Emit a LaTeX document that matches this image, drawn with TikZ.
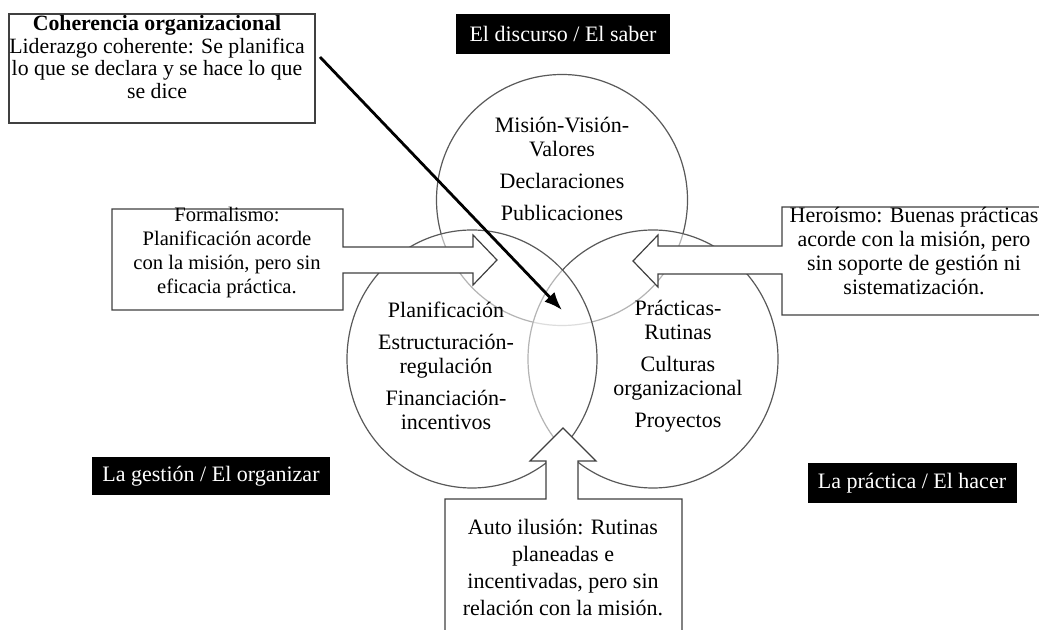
\documentclass[tikz,border=0pt]{standalone}
\usepackage{fontspec}
\setmainfont{Liberation Serif}
\usetikzlibrary{arrows.meta}
\begin{document}
\begin{tikzpicture}[x=0.5pt, y=-0.5pt, line join=miter,
    circulo/.style={draw=black!65, line width=0.6pt, fill=white, fill opacity=0.55},
    llamada/.style={draw=black!75, line width=0.6pt, fill=white},
    etiqueta/.style={fill=black, text=white, font=\fontsize{11}{13}\selectfont, inner sep=0pt},
    texto/.style={align=center, inner sep=0pt, font=\fontsize{11}{12}\selectfont}]
  \useasboundingbox (0,0) rectangle (1039,630);

  % 1. Círculos (arriba, derecha, izquierda)
  \draw[circulo] (562,200) circle [radius=62.75pt];
  \draw[circulo] (653,359) ellipse [x radius=62.5pt, y radius=64.5pt];
  \draw[circulo] (472,359) ellipse [x radius=62.5pt, y radius=64.5pt];

  \node[texto] (saber) at (562,169) {Misión-Visión-\\Valores\\[4pt]Declaraciones\\[4pt]Publicaciones};
  \node[texto] (organizar) at (446,366) {Planificación\\[4pt]Estructuración-\\regulación\\[4pt]Financiación-\\incentivos};
  \node[texto] (hacer) at (678,366) {Prácticas-\\Rutinas\\[4pt]Culturas\\organizacional\\[4pt]Proyectos};

  % 2. Flechas-llamada
  \draw[llamada] (112,209) -- (343,209) -- (343,247) -- (473,247) -- (473,235) -- (497,260)
    -- (473,285) -- (473,273) -- (343,273) -- (343,310) -- (112,310) -- cycle;
  \node[texto, font=\fontsize{10.3}{12}\selectfont] (formalismo) at (227,253)
    {Formalismo:\\Planificación acorde\\con la misión, pero sin\\eficacia práctica.};

  \draw[llamada] (1045,207) -- (782,207) -- (782,246) -- (658,246) -- (658,235) -- (633,261)
    -- (658,287) -- (658,274) -- (782,274) -- (782,315) -- (1045,315) -- cycle;
  \node[texto] (heroismo) at (914,251)
    {Heroísmo: Buenas prácticas\\acorde con la misión, pero\\sin soporte de gestión ni\\sistematización.};

  \draw[llamada] (445,640) -- (445,499) -- (546,499) -- (546,461) -- (530,461) -- (563,428)
    -- (596,461) -- (578,461) -- (578,499) -- (682,499) -- (682,640) -- cycle;
  \node[texto, font=\fontsize{11}{13.5}\selectfont] (ilusion) at (563,568)
    {Auto ilusión: Rutinas\\planeadas e\\incentivadas, pero sin\\relación con la misión.};

  % 3. Coherencia organizacional
  \draw[black!75, line width=0.6pt] (9,14) rectangle (315,123);
  \node[texto, font=\fontsize{10.9}{11.3}\selectfont] (coherencia) at (157,57)
    {\textbf{Coherencia organizacional}\\Liderazgo coherente: Se planifica\\lo que se declara y se hace lo que\\se dice};

  % 4. Etiquetas negras
  \node[etiqueta, minimum width=107pt, minimum height=20pt] (discurso) at (563,34) {El discurso / El saber};
  \node[etiqueta, minimum width=119pt, minimum height=19pt] (gestion) at (211,476) {La gestión / El organizar};
  \node[etiqueta, minimum width=104.5pt, minimum height=20pt] (practica) at (912,483) {La práctica / El hacer};

  % 5. Flecha central
  \coordinate (inicio) at (320,57);
  \coordinate (centro) at (562,310);
  \draw[line width=1.4pt, -{Latex[length=9pt, width=7pt]}] (inicio) -- (centro);
\end{tikzpicture}
\end{document}
